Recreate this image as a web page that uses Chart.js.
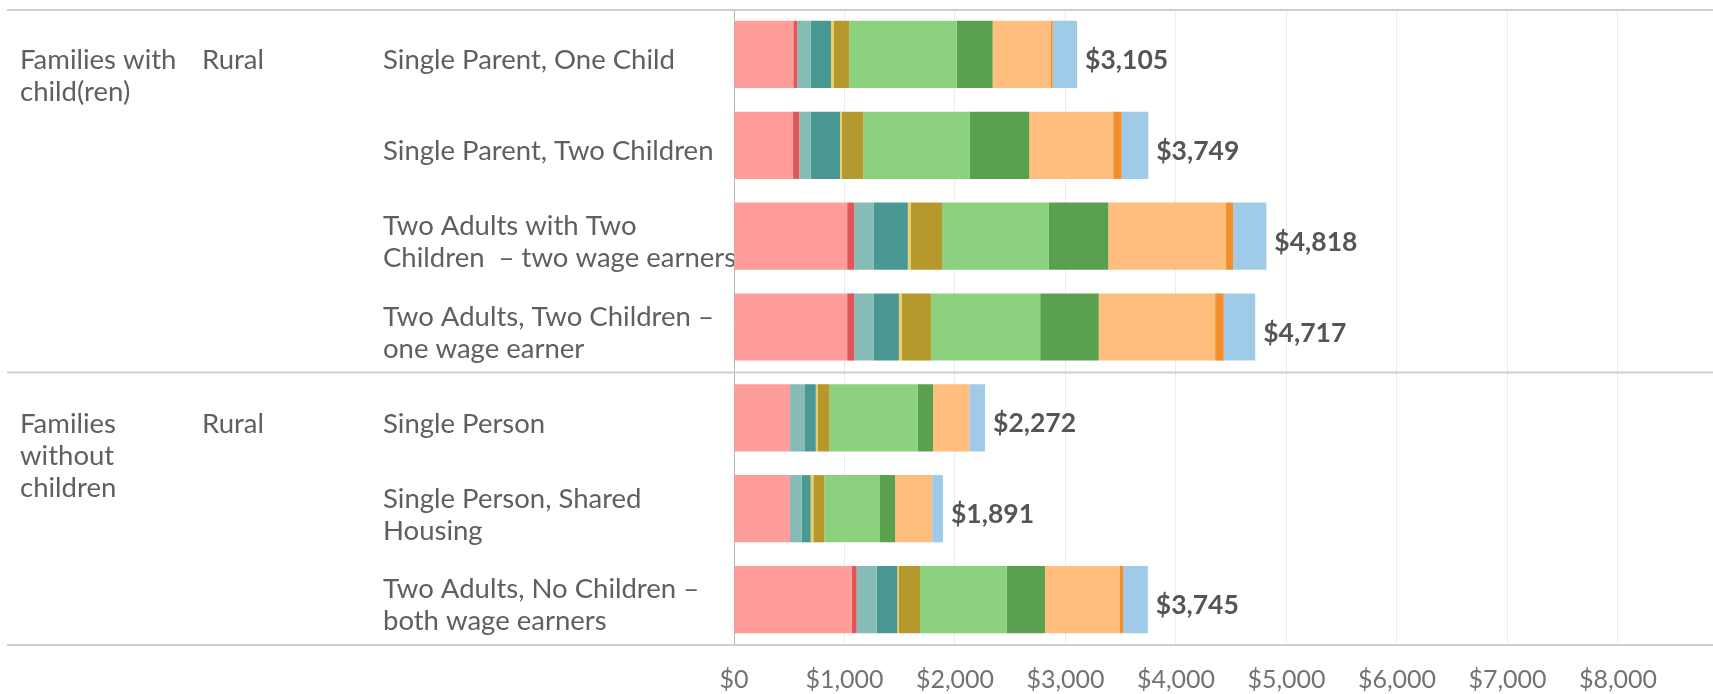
<!DOCTYPE html>
<html>
<head>
<meta charset="utf-8">
<title>Monthly family budget</title>
<script src="https://cdn.jsdelivr.net/npm/chart.js@4"></script>
<style>
  body { margin: 0; background: #fff; }
  #wrap { width: 1713px; height: 694px; }
</style>
</head>
<body>
<div id="wrap"><canvas id="budgetChart" width="1713" height="694"></canvas></div>
<script>
// rows of the chart (multi-line labels as arrays)
const categories = [
    'Single Parent, One Child',
    'Single Parent, Two Children',
    ['Two Adults with Two', 'Children  \u2013 two wage earners'],
    ['Two Adults, Two Children \u2013', 'one wage earner'],
    'Single Person',
    ['Single Person, Shared', 'Housing'],
    ['Two Adults, No Children \u2013', 'both wage earners']
];
const familyGroups = [['Families with', 'child(ren)'], ['Families', 'without', 'children']];
const groupStartRows = [0, 4];
const areaLabels = ['Rural', 'Rural'];

const xTicks = [0, 1000, 2000, 3000, 4000, 5000, 6000, 7000, 8000];
const totals = [3105, 3749, 4818, 4717, 2272, 1891, 3745];

// stacked segments, left to right
const segmentNames = ['Part 1', 'Part 2', 'Part 3', 'Part 4', 'Part 5', 'Part 6',
                      'Part 7', 'Part 8', 'Part 9', 'Part 10', 'Part 11'];
const part1  = [537, 531, 1024, 1024, 507, 507, 1065];
const part2  = [36, 60, 64, 64, 0, 0, 45];
const part3  = [121, 103, 178, 178, 130, 106, 181];
const part4  = [184, 265, 307, 226, 103, 81, 187];
const part5  = [27, 15, 25, 25, 15, 24, 15];
const part6  = [138, 195, 285, 265, 109, 100, 190];
const part7  = [972, 966, 967, 989, 798, 498, 784];
const part8  = [326, 537, 537, 530, 139, 142, 347];
const part9  = [528, 760, 1066, 1053, 329, 335, 679];
const part10 = [15, 76, 65, 78, 0, 0, 30];
const part11 = [221, 241, 300, 285, 142, 98, 222];

const segmentValues = [part1, part2, part3, part4, part5, part6, part7, part8, part9, part10, part11];
const segmentColors = ['#FF9D9A', '#E15759', '#86BCB6', '#499894', '#F1CE63', '#B6992D',
                       '#8CD17D', '#59A14F', '#FFBE7D', '#F28E2B', '#A0CBE8'];

const FONT = 'Lato, "Open Sans", sans-serif';
const TEXT = '#5f5f5f';
const LABEL_SIZE = 27.5;
const LINE_GAP = 32;
const TEXT_SHIFT = 6; // labels sit a little below the bar centre in the original

// extra drawing: group columns, separator lines, totals
const tablePlugin = {
    id: 'tableParts',
    afterDraw(chart) {
        const ctx = chart.ctx;
        const y = chart.scales.y;
        const x = chart.scales.x;
        const area = chart.chartArea;
        ctx.save();

        // horizontal rules
        ctx.strokeStyle = '#cfcfcf';
        ctx.lineWidth = 2;
        const sep = (y.getPixelForValue(3) + y.getPixelForValue(4)) / 2;
        [area.top + 1, sep, area.bottom].forEach(function(py) {
            ctx.beginPath();
            ctx.moveTo(7, py);
            ctx.lineTo(chart.width, py);
            ctx.stroke();
        });

        // group columns
        ctx.font = LABEL_SIZE + 'px ' + FONT;
        ctx.fillStyle = TEXT;
        ctx.textAlign = 'left';
        ctx.textBaseline = 'middle';
        groupStartRows.forEach(function(row, i) {
            const py = y.getPixelForValue(row) + TEXT_SHIFT;
            familyGroups[i].forEach(function(line, j) {
                ctx.fillText(line, 20, py + j * LINE_GAP);
            });
            ctx.fillText(areaLabels[i], 202, py);
        });

        // totals at bar ends
        ctx.font = 'bold 26.5px ' + FONT;
        ctx.fillStyle = '#555555';
        totals.forEach(function(t, i) {
            ctx.fillText('$' + t.toLocaleString('en-US'), x.getPixelForValue(t) + 8, y.getPixelForValue(i) + TEXT_SHIFT);
        });
        ctx.restore();
    }
};

const ctx = document.getElementById('budgetChart').getContext('2d');
new Chart(ctx, {
    type: 'bar',
    data: {
        labels: categories,
        datasets: segmentValues.map(function(vals, i) {
            return {
                label: segmentNames[i],
                data: vals,
                backgroundColor: segmentColors[i],
                borderWidth: 0,
                categoryPercentage: 1,
                barPercentage: 0.74
            };
        })
    },
    options: {
        indexAxis: 'y',
        responsive: false,
        animation: false,
        layout: { padding: { left: 383, top: 9, right: 0, bottom: 0 } },
        plugins: {
            legend: { display: false },
            tooltip: { enabled: false }
        },
        scales: {
            x: {
                stacked: true,
                min: 0,
                max: 8860,
                afterBuildTicks: function(axis) {
                    axis.ticks = xTicks.map(function(v) { return { value: v }; });
                },
                afterFit: function(axis) {
                    axis.height = 49;
                    axis.paddingLeft = 0;
                    axis.paddingRight = 0;
                },
                grid: { color: '#ececec', lineWidth: 1, drawTicks: false },
                border: { display: false },
                ticks: {
                    padding: 20,
                    color: '#727272',
                    font: { family: FONT, size: 25 },
                    callback: function(v) { return '$' + Number(v).toLocaleString('en-US'); }
                }
            },
            y: {
                stacked: true,
                afterFit: function(axis) {
                    axis.width = 351;
                    axis.paddingTop = 0;
                    axis.paddingBottom = 0;
                },
                grid: { display: false },
                border: { display: true, color: '#b5b5b5', dash: [2, 3], width: 1 },
                ticks: {
                    crossAlign: 'far',
                    labelOffset: TEXT_SHIFT,
                    color: TEXT,
                    font: { family: FONT, size: LABEL_SIZE, lineHeight: LINE_GAP / LABEL_SIZE }
                }
            }
        }
    },
    plugins: [tablePlugin]
});
</script>
</body>
</html>
